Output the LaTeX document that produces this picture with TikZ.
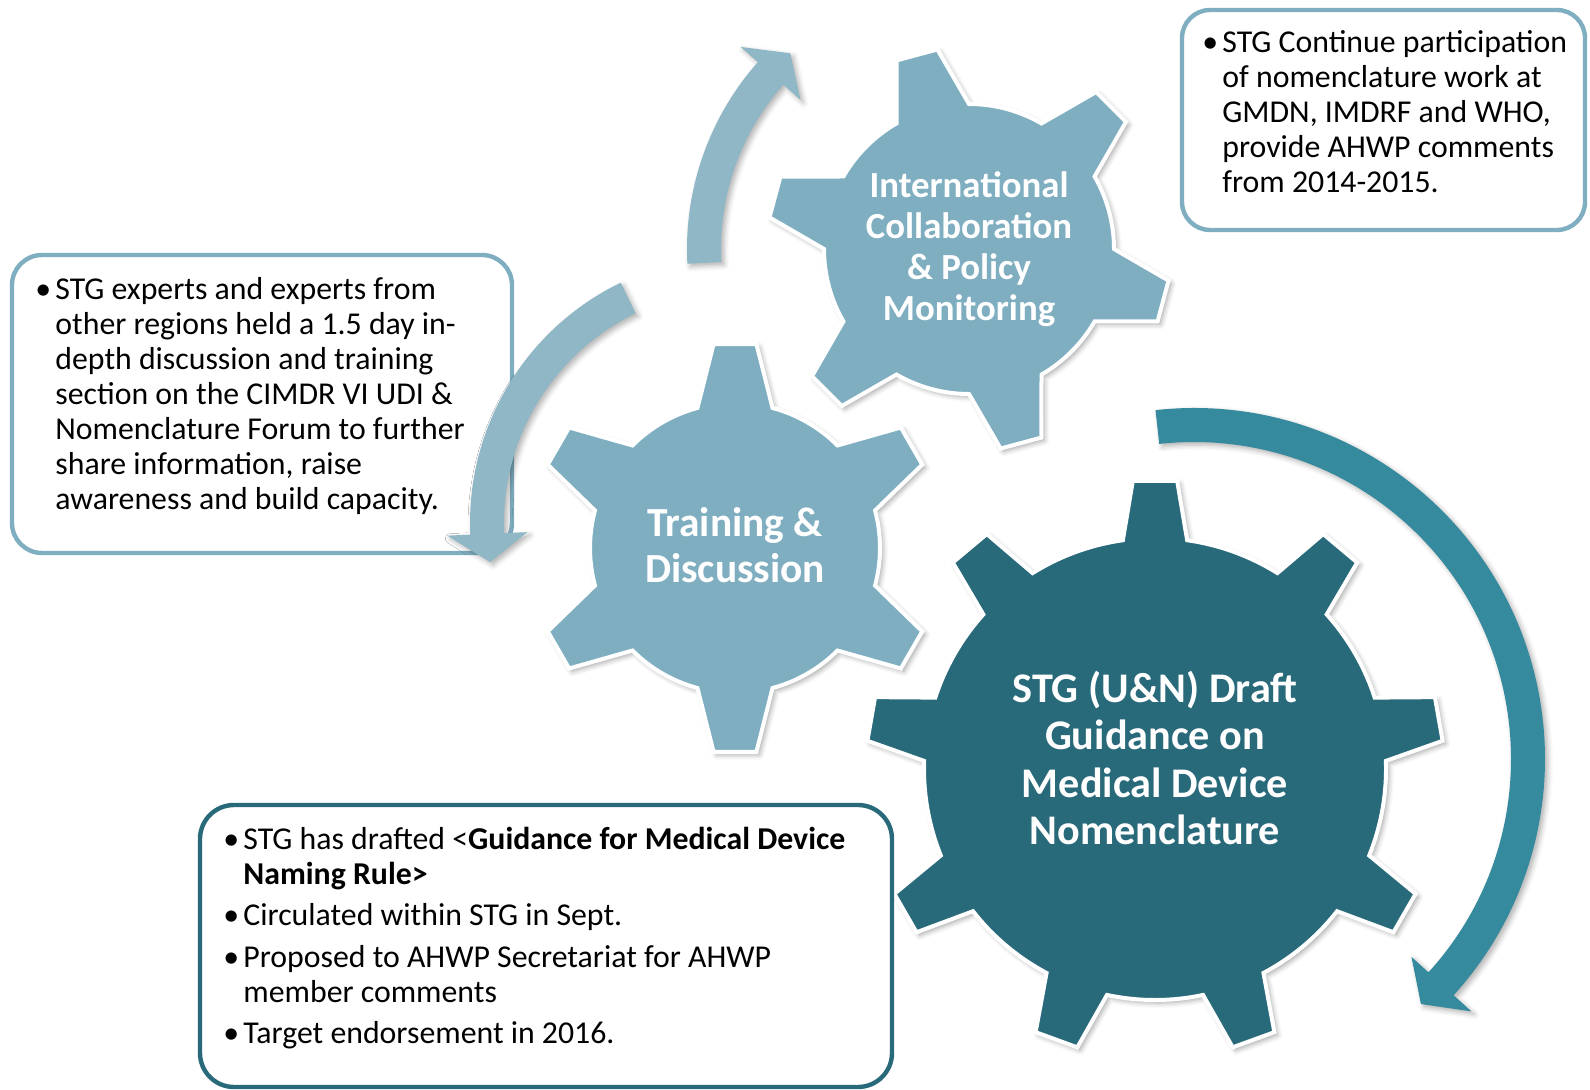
\documentclass[tikz,border=0pt]{standalone}
\usepackage{fontspec}
\setmainfont{Carlito}
\usetikzlibrary{shadows.blur}
\definecolor{gearlight}{HTML}{7FAEC1}
\definecolor{geardark}{HTML}{28697A}
\definecolor{arrowlight}{HTML}{90B7C6}
\definecolor{arrowdark}{HTML}{368A9E}

\begin{document}
\begin{tikzpicture}[x=0.5pt,y=0.5pt,
    gear/.style={draw=white,line width=2pt,blur shadow={shadow xshift=1.5pt,shadow yshift=-1.5pt,shadow opacity=35,shadow blur radius=2.5pt}},
    turn/.style={blur shadow={shadow xshift=1.5pt,shadow yshift=-1.5pt,shadow opacity=30,shadow blur radius=2.5pt}},
    geartext/.style={text=white,inner sep=0pt,anchor=base},
    infobox/.style={fill=white,line width=2.2pt,rounded corners=14pt},
    infotext/.style={inner sep=0pt,anchor=base west,font=\fontsize{15.9}{17.5}\selectfont}]
  \useasboundingbox (0,0) rectangle (1590,-1090);

  % gears
  \begin{scope}[shift={(969,-249)}]
    \path[fill=gearlight,gear] (90:145) \foreach \a in {105,165,...,405} { -- (\a-15:145) -- (\a-6:202) -- (\a+6:202) -- (\a+15:145) arc[start angle=\a+15,end angle=\a+45,radius=145]} -- cycle;
  \end{scope}
  \begin{scope}[shift={(735,-548)}]
    \path[fill=gearlight,gear] (75:145) \foreach \a in {90,150,...,390} { -- (\a-15:145) -- (\a-6:205) -- (\a+6:205) -- (\a+15:145) arc[start angle=\a+15,end angle=\a+45,radius=145]} -- cycle;
  \end{scope}
  \begin{scope}[shift={(1155,-769)}]
    \path[fill=geardark,gear] (82:231) \foreach \a in {90,130,...,410} { -- (\a-8:231) -- (\a-4.4:289) -- (\a+4.4:289) -- (\a+8:231) arc[start angle=\a+8,end angle=\a+32,radius=231]} -- cycle;
  \end{scope}

  \node[geartext,font=\fontsize{18.4}{20.5}\selectfont\bfseries] (intl) at (969,-198)
    {\begin{tabular}[t]{@{}c@{}}International\\Collaboration\\\& Policy\\Monitoring\end{tabular}};
  \node[geartext,font=\fontsize{20.7}{23}\selectfont\bfseries] (training) at (735,-537)
    {\begin{tabular}[t]{@{}c@{}}Training \&\\Discussion\end{tabular}};
  \node[geartext,font=\fontsize{21.1}{23.8}\selectfont\bfseries] (draft) at (1155,-702)
    {\begin{tabular}[t]{@{}c@{}}STG (U\&N) Draft\\Guidance on\\Medical Device\\Nomenclature\end{tabular}};

  % text boxes
  \draw[infobox,draw=gearlight] (1182,-10) rectangle (1585,-230);
  \draw[infobox,draw=gearlight,rounded corners=15pt] (12,-255) rectangle (512,-553);
  \draw[infobox,draw=geardark,rounded corners=17pt] (200,-805) rectangle (892,-1087);

  \node[infotext] (continue) at (1202,-53)
    {\begin{tabular}[t]{@{}p{10pt}@{}l@{}}\textbullet & STG Continue participation\\ & of nomenclature work at\\ & GMDN, IMDRF and WHO,\\ & provide AHWP comments\\ & from 2014-2015.\end{tabular}};
  \node[infotext] (experts) at (35,-300)
    {\begin{tabular}[t]{@{}p{10pt}@{}l@{}}\textbullet & STG experts and experts from\\ & other regions held a 1.5 day in-\\ & depth discussion and training\\ & section on the CIMDR VI UDI \&\\ & Nomenclature Forum to further\\ & share information, raise\\ & awareness and build capacity.\end{tabular}};
  \node[infotext] (drafted) at (223,-849)
    {\begin{tabular}[t]{@{}p{10pt}@{}l@{}}\textbullet & STG has drafted <\textbf{Guidance for Medical Device}\\ & \textbf{Naming Rule>}\\[3.25pt]
      \textbullet & Circulated within STG in Sept.\\[3.25pt]
      \textbullet & Proposed to AHWP Secretariat for AHWP\\ & member comments\\[3.25pt]
      \textbullet & Target endorsement in 2016.\end{tabular}};

  % circular arrows
  \begin{scope}[shift={(969,-249)}]
    \fill[arrowlight,turn] (183:282) arc[start angle=183,end angle=138.5,radius=282] -- (138.5:305) -- (132.4:265) -- (138.5:225) -- (138.5:248) arc[start angle=138.5,end angle=183,radius=248] -- cycle;
  \end{scope}
  \begin{scope}[shift={(737,-523)}]
    \fill[arrowlight,turn] (115.8:267) arc[start angle=115.8,end angle=182.5,radius=267] -- (182.5:290) -- (189:250) -- (182.5:210) -- (182.5:233) arc[start angle=182.5,end angle=115.8,radius=233] -- cycle;
  \end{scope}
  \begin{scope}[shift={(1194,-759)}]
    \fill[arrowdark,turn] (96.3:351) arc[start angle=96.3,end angle=-42.3,radius=351] -- (-42.3:375) -- (-47.2:334) -- (-42.3:294) -- (-42.3:317) arc[start angle=-42.3,end angle=96.3,radius=317] -- cycle;
  \end{scope}
\end{tikzpicture}
\end{document}
